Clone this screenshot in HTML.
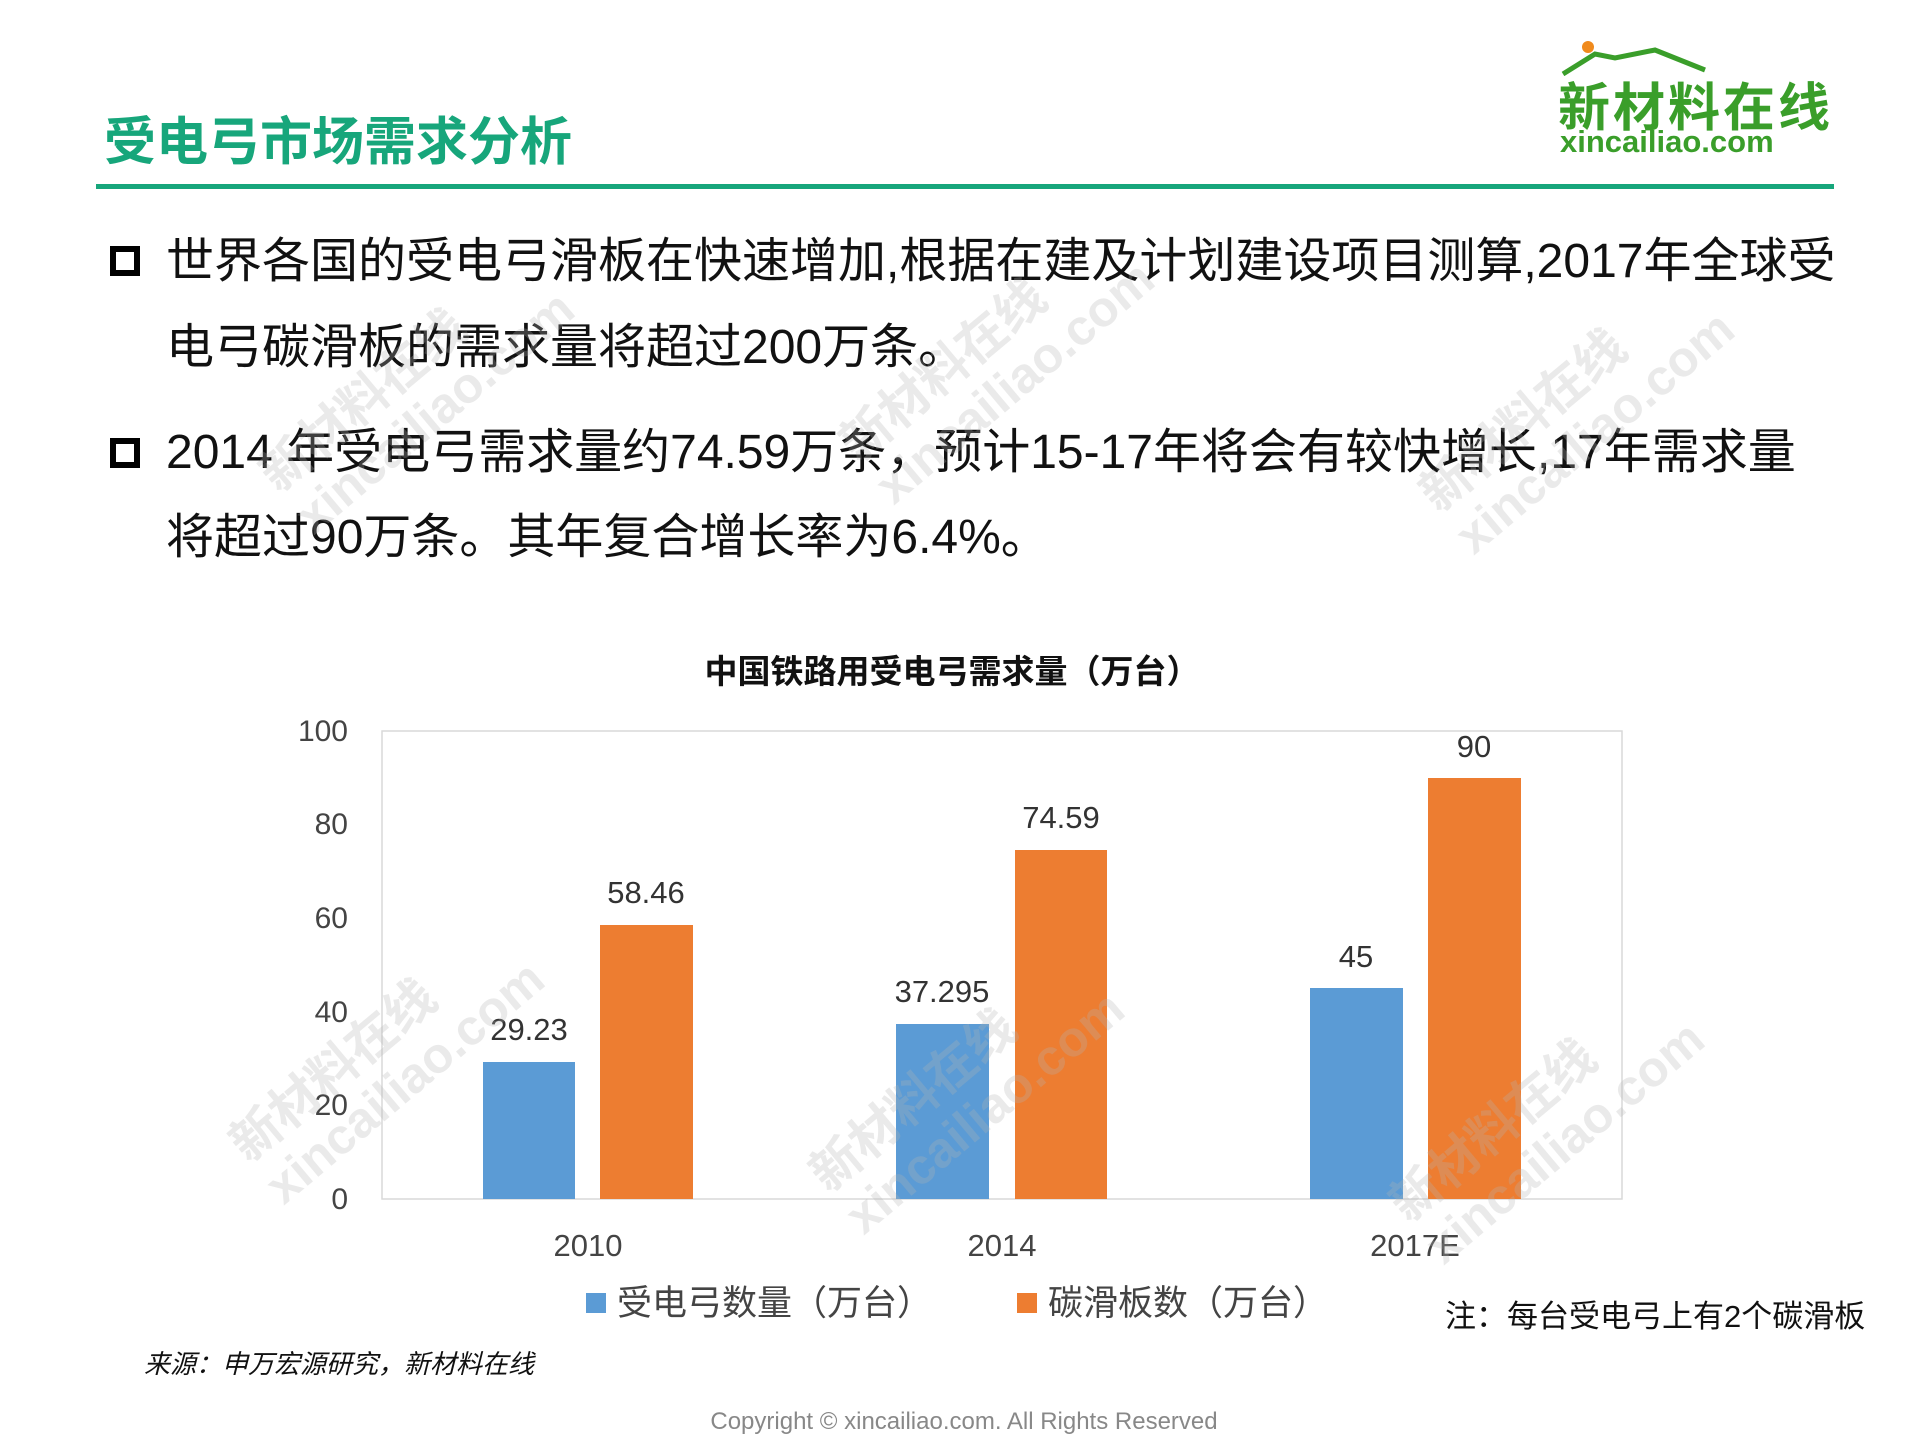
<!DOCTYPE html>
<html><head><meta charset="utf-8"><style>
html,body{margin:0;padding:0;background:#fff;}
body{width:1920px;height:1440px;position:relative;overflow:hidden;font-family:"Liberation Sans","Noto Sans CJK SC",sans-serif;}
.a{position:absolute;white-space:nowrap;}
.b{font-size:48px;color:#111;line-height:1;}
.sq{position:absolute;width:30px;height:30px;border:6px solid #000;box-sizing:border-box;}
.wm{position:absolute;color:rgba(180,180,180,0.28);font-weight:bold;font-size:50px;transform:rotate(-40deg);transform-origin:left top;line-height:1.1;white-space:nowrap;}
</style></head><body>
<div class="a" style="left:104px;top:100px;font-size:52px;font-weight:bold;color:#17a67b;">受电弓市场需求分析</div>
<div class="a" style="left:96px;top:184px;width:1738px;height:5px;background:#17a67b;"></div>
<svg class="a" style="left:1555px;top:36px" width="290" height="40"><circle cx="33" cy="11" r="6" fill="#f08a1c"/><polyline points="8,38 40,18 60,22 100,14 150,34" fill="none" stroke="#3a9e2a" stroke-width="5"/></svg>
<div class="a" style="left:1558px;top:66px;font-size:52px;font-weight:bold;color:#3a9e2a;letter-spacing:3px;">新材料在线</div>
<div class="a" style="left:1560px;top:124px;font-size:31px;font-weight:bold;color:#3a9e2a;">xincailiao.com</div>

<div class="sq" style="left:110px;top:246px"></div>
<div class="a b" style="left:166px;top:238px">世界各国的受电弓滑板在快速增加,根据在建及计划建设项目测算,2017年全球受</div>
<div class="a b" style="left:166px;top:324px">电弓碳滑板的需求量将超过200万条。</div>
<div class="sq" style="left:110px;top:438px"></div>
<div class="a b" style="left:166px;top:429px">2014 年受电弓需求量约74.59万条，预计15-17年将会有较快增长,17年需求量</div>
<div class="a b" style="left:166px;top:514px">将超过90万条。其年复合增长率为6.4%。</div>

<svg class="a" style="left:-5px;top:-5px" width="1920" height="1440" font-family="Liberation Sans, Noto Sans CJK SC, sans-serif">
<text x="957" y="688" text-anchor="middle" font-size="33" font-weight="bold" fill="#111">中国铁路用受电弓需求量（万台）</text>
<rect x="387" y="736" width="1240" height="468" fill="none" stroke="#d9d9d9" stroke-width="1.5"/>
<g font-size="30" fill="#444" text-anchor="end">
<text x="353" y="746">100</text><text x="353" y="839">80</text><text x="353" y="933">60</text>
<text x="353" y="1027">40</text><text x="353" y="1120">20</text><text x="353" y="1214">0</text></g>
<g fill="#5b9bd5">
<rect x="488" y="1067" width="92" height="137"/>
<rect x="901" y="1029" width="93" height="175"/>
<rect x="1315" y="993" width="93" height="211"/></g>
<g fill="#ed7d31">
<rect x="605" y="930" width="93" height="274"/>
<rect x="1020" y="855" width="92" height="349"/>
<rect x="1433" y="783" width="93" height="421"/></g>
<g font-size="31" fill="#333" text-anchor="middle">
<text x="534" y="1045">29.23</text><text x="651" y="908">58.46</text>
<text x="947" y="1007">37.295</text><text x="1066" y="833">74.59</text>
<text x="1361" y="972">45</text><text x="1479" y="762">90</text></g>
<g font-size="31" fill="#444" text-anchor="middle">
<text x="593" y="1261">2010</text><text x="1007" y="1261">2014</text><text x="1420" y="1261">2017E</text></g>
<rect x="591" y="1298" width="20" height="20" fill="#5b9bd5"/>
<text x="622" y="1320" font-size="35" fill="#444">受电弓数量（万台）</text>
<rect x="1022" y="1298" width="20" height="20" fill="#ed7d31"/>
<text x="1053" y="1320" font-size="35" fill="#444">碳滑板数（万台）</text>
<text x="1450" y="1332" font-size="31" fill="#111">注：每台受电弓上有2个碳滑板</text>
<text x="149" y="1378" font-size="26" font-style="italic" fill="#111">来源：申万宏源研究，新材料在线</text>
<text x="969" y="1434" text-anchor="middle" font-size="24" fill="#888">Copyright © xincailiao.com. All Rights Reserved</text>
</svg>

<div class="wm" style="left:250px;top:460px">新材料在线<br>xincailiao.com</div>
<div class="wm" style="left:830px;top:430px">新材料在线<br>xincailiao.com</div>
<div class="wm" style="left:1410px;top:480px">新材料在线<br>xincailiao.com</div>
<div class="wm" style="left:220px;top:1130px">新材料在线<br>xincailiao.com</div>
<div class="wm" style="left:800px;top:1160px">新材料在线<br>xincailiao.com</div>
<div class="wm" style="left:1380px;top:1190px">新材料在线<br>xincailiao.com</div>
</body></html>
